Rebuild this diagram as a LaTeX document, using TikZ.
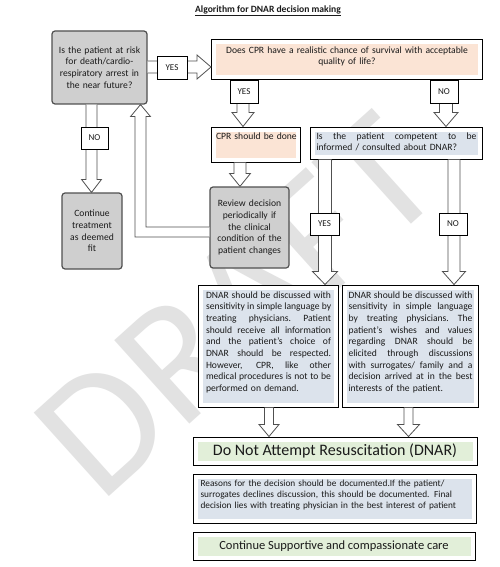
\documentclass[tikz,border=0pt]{standalone}
\usepackage{fontspec}
\setmainfont{Carlito}
\usetikzlibrary{calc}
\definecolor{peach}{HTML}{FBE4D5}
\definecolor{bluegray}{HTML}{DCE3EC}
\definecolor{palegreen}{HTML}{E2EFD9}
\definecolor{boxgray}{HTML}{CFCFCF}
\definecolor{edgegray}{HTML}{505050}
\definecolor{wmgray}{HTML}{E2E2E2}
\definecolor{ink}{HTML}{1A1A1A}
\newcommand\JL[1]{\leavevmode\hbox to\hsize{\spaceskip=.226em plus 1fil\xspaceskip=\spaceskip #1}\par}
\newcommand\LL[1]{\leavevmode\hbox to\hsize{#1\hfil}\par}
% hollow down arrow: #1 x centre, #2 start, #3 end, #4 half shaft, #5 half head, #6 head length
\newcommand\hdown[6]{\path[harrow] let \p1=#2, \p2=#3 in
  ({(#1-#4)*1pt},\y1) -- ({(#1-#4)*1pt},\y2+#6pt) -- ({(#1-#5)*1pt},\y2+#6pt) --
  ({#1*1pt},\y2) -- ({(#1+#5)*1pt},\y2+#6pt) -- ({(#1+#4)*1pt},\y2+#6pt) -- ({(#1+#4)*1pt},\y1);}
\begin{document}
\begin{tikzpicture}[x=1pt,y=-1pt,
  every node/.style={text=ink},
  graybox/.style={draw=edgegray, line width=1.2pt, fill=boxgray, rounded corners=3pt,
     align=center, font=\fontsize{9.6}{11.7}\selectfont, inner sep=2pt},
  dframe/.style={draw=black, line width=1pt, fill=white, inner ysep=0pt,
     path picture={\fill[#1] ([shift={(4.5pt,-4.5pt)}]path picture bounding box.north west)
        rectangle ([shift={(-4.5pt,4.5pt)}]path picture bounding box.south east);}},
  bodytext/.style={font=\fontsize{9.6}{11.65}\selectfont},
  lbl/.style={draw=black, line width=0.8pt, fill=white, inner sep=0pt,
     font=\fontsize{9}{10}\selectfont},
  harrow/.style={draw=edgegray, fill=white, line width=0.8pt, line join=miter}]
\useasboundingbox (0,0) rectangle (500,567);
\fill[white] (0,0) rectangle (500,567);
% watermark
\begin{scope}
\clip (0,0) rectangle (500,567);
\node[rotate=42, text=wmgray, font=\fontsize{175}{175}\selectfont] (WM) at (237,306) {DRAFT};
\end{scope}
% title
\node[font=\bfseries\fontsize{9.6}{11}\selectfont] (T) at (268,11) {\underline{Algorithm for DNAR decision making}};
% left column
\node[graybox, minimum width=95pt, minimum height=73pt, text width=90pt] (A) at (99.5,67.5)
  {Is the patient at risk\\for death/cardio-\\respiratory arrest in\\the near future?};
\node[graybox, minimum width=60pt, minimum height=76pt, text width=56pt] (Cont) at (92,231)
  {Continue\\treatment\\as deemed\\fit};
\node[graybox, minimum width=79pt, minimum height=81pt, text width=75pt] (Rev) at (249.5,227.5)
  {Review decision\\periodically if\\the clinical\\condition of the\\patient changes};
% framed boxes
\node[dframe=peach, anchor=base west, text width=261pt, inner xsep=5pt, align=center,
  text height=13.3pt, text depth=26.7pt, font=\fontsize{9.6}{11.6}\selectfont] (B) at (211,53.3)
  {Does CPR have a realistic chance of survival with acceptable\\quality of life?};
\node[dframe=peach, anchor=base west, text width=80pt, inner xsep=4.5pt, bodytext,
  text height=12.6pt, text depth=22.4pt] (C) at (211,139.6)
  {\LL{CPR should be done}};
\node[dframe=bluegray, anchor=base west, text width=160pt, inner xsep=6pt,
  text height=12.5pt, text depth=19.5pt, font=\fontsize{9.6}{11.4}\selectfont] (D) at (310,139.5)
  {\JL{Is the patient competent to be}\LL{informed / consulted about DNAR?}};
\node[dframe=bluegray, anchor=base west, text width=125pt, inner xsep=7.5pt, bodytext,
  text height=13.2pt, text depth=108.8pt] (E) at (198,298.2)
  {\JL{DNAR should be discussed with}\JL{sensitivity in simple language by}%
   \JL{treating physicians. Patient}\JL{should receive all information}%
   \JL{and the patient’s choice of}\JL{DNAR should be respected.}%
   \JL{However, CPR, like other}\JL{medical procedures is not to be}%
   \LL{performed on demand.}};
\node[dframe=bluegray, anchor=base west, text width=124pt, inner xsep=6pt, bodytext,
  text height=13.2pt, text depth=108.8pt] (F) at (342,298.2)
  {\JL{DNAR should be discussed with}\JL{sensitivity in simple language}%
   \JL{by treating physicians. The}\JL{patient’s wishes and values}%
   \JL{regarding DNAR should be}\JL{elicited through discussions}%
   \JL{with surrogates/ family and a}\JL{decision arrived at in the best}%
   \LL{interests of the patient.}};
\node[dframe=palegreen, minimum width=284pt, minimum height=28pt,
  font=\fontsize{16}{19}\selectfont] (G) at (335,451) {Do Not Attempt Resuscitation (DNAR)};
\node[dframe=bluegray, anchor=base west, text width=269pt, inner xsep=7pt,
  text height=12.5pt, text depth=36.5pt, font=\fontsize{9.3}{11.1}\selectfont] (H) at (193,486.5)
  {\LL{Reasons for the decision should be documented.If the patient/}%
   \LL{surrogates declines discussion, this should be documented. Final}%
   \LL{decision lies with treating physician in the best interest of patient}};
\node[dframe=palegreen, minimum width=282pt, minimum height=28pt,
  font=\fontsize{12.5}{15}\selectfont] (I) at (334,546) {Continue Supportive and compassionate care};
% hollow arrows
\path[harrow] let \p1=(A.east), \p2=(B.west) in
  (\x1,-61pt) -- (\x2-14pt,-61pt) -- (\x2-14pt,-55pt) -- (\x2,-67pt) --
  (\x2-14pt,-79pt) -- (\x2-14pt,-73pt) -- (\x1,-73pt);
\hdown{91.5}{(A.south)}{(Cont.north)}{5.5}{10}{13}
\hdown{243}{(B.south)}{(C.north)}{6}{11}{14}
\hdown{446}{(B.south)}{(D.north)}{6.5}{12}{14}
\hdown{240}{(C.south)}{(Rev.north)}{6}{10.5}{13}
\hdown{325}{(D.south)}{(E.north)}{6.5}{12.5}{13}
\hdown{454}{(D.south)}{(F.north)}{6}{11.5}{13}
\hdown{269}{(E.south)}{(G.north)}{4.5}{10}{12}
\hdown{408.5}{(F.south)}{(G.north)}{4.5}{11}{12}
\path[harrow] let \p1=(Rev.west), \p2=(A.south) in
  (\x1,-227pt) -- (146pt,-227pt) -- (146pt,\y2-12pt) -- (150.5pt,\y2-12pt) --
  (140.5pt,\y2) -- (130.5pt,\y2-12pt) -- (135pt,\y2-12pt) -- (135pt,-237pt) -- (\x1,-237pt);
% labels
\node[lbl, minimum width=30pt, minimum height=23pt] (Y1) at (172,67.5) {YES};
\node[lbl, minimum width=28pt, minimum height=23pt] (Y2) at (244,91.5) {YES};
\node[lbl, minimum width=28pt, minimum height=23pt] (N2) at (444,91.5) {NO};
\node[lbl, minimum width=27pt, minimum height=22pt] (N1) at (94.5,138) {NO};
\node[lbl, minimum width=29pt, minimum height=22pt] (Y3) at (324.5,224) {YES};
\node[lbl, minimum width=28pt, minimum height=22pt] (N3) at (453,224) {NO};
\end{tikzpicture}
\end{document}
